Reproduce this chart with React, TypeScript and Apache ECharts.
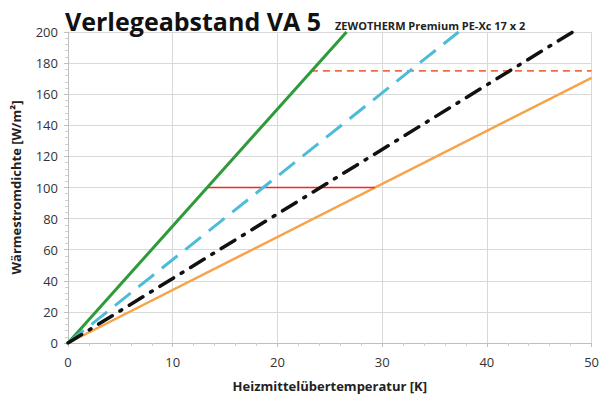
import React, { useEffect, useRef } from "react";
import * as echarts from "echarts";

const xTicks = [0, 10, 20, 30, 40, 50];
const yTicks = [0, 20, 40, 60, 80, 100, 120, 140, 160, 180, 200];

const greenLine = [[0, 0], [26.6, 200]];
const cyanLine = [[0, 0], [37.3, 200]];
const blackLine = [[0, 0], [48.2, 200]];
const orangeLine = [[0, 0], [50, 170.5]];
const redSolid = [[13.3, 100], [29.3, 100]];
const redDashed = [[23.2, 175], [50, 175]];

export default function App() {
  const ref = useRef<HTMLDivElement>(null);
  useEffect(() => {
    const chart = echarts.init(ref.current!, null, { renderer: "svg" });
    const font = "'Open Sans', 'Liberation Sans', sans-serif";
    chart.setOption({
      animation: false,
      backgroundColor: "#ffffff",
      textStyle: { fontFamily: font },
      title: [
        {
          text: "Verlegeabstand VA 5",
          left: 60,
          top: 3,
          textStyle: { fontSize: 25, fontWeight: "bold", color: "#111", fontFamily: font },
        },
        {
          text: "ZEWOTHERM Premium PE-Xc 17 x 2",
          left: 330,
          top: 15,
          textStyle: { fontSize: 11, fontWeight: "bold", color: "#222", fontFamily: font },
        },
      ],
      grid: { left: 68, right: 8, top: 32, bottom: 62, containLabel: false },
      xAxis: {
        type: "value",
        min: xTicks[0],
        max: xTicks[xTicks.length - 1],
        interval: 10,
        name: "Heizmittelübertemperatur [K]",
        nameLocation: "middle",
        nameGap: 36,
        nameTextStyle: { fontSize: 13, fontWeight: "bold", color: "#222" },
        axisLine: { show: true, lineStyle: { color: "#bfbfbf" } },
        axisTick: { show: true, length: 4, lineStyle: { color: "#bfbfbf" } },
        minorTick: { show: true, splitNumber: 5, length: 3, lineStyle: { color: "#d0d0d0" } },
        axisLabel: { fontSize: 13, color: "#333", margin: 12 },
        splitLine: { show: true, lineStyle: { color: "#d9d9d9" } },
      },
      yAxis: {
        type: "value",
        min: yTicks[0],
        max: yTicks[yTicks.length - 1],
        interval: 20,
        name: "Wärmestromdichte [W/m²]",
        nameLocation: "middle",
        nameGap: 46,
        nameTextStyle: { fontSize: 13, fontWeight: "bold", color: "#222" },
        axisLine: { show: true, lineStyle: { color: "#bfbfbf" } },
        axisTick: { show: true, length: 4, lineStyle: { color: "#bfbfbf" } },
        minorTick: { show: true, splitNumber: 5, length: 3, lineStyle: { color: "#d0d0d0" } },
        axisLabel: { fontSize: 13, color: "#333", margin: 10 },
        splitLine: { show: true, lineStyle: { color: "#d9d9d9" } },
      },
      series: [
        {
          type: "line",
          data: orangeLine,
          symbol: "none",
          lineStyle: { color: "#f7a34c", width: 2.5 },
        },
        {
          type: "line",
          data: redSolid,
          symbol: "none",
          lineStyle: { color: "#ff2020", width: 1.5 },
        },
        {
          type: "line",
          data: redDashed,
          symbol: "none",
          lineStyle: { color: "#f26a45", width: 1.8, type: [7, 5] },
        },
        {
          type: "line",
          data: greenLine,
          symbol: "none",
          lineStyle: { color: "#2e9a3a", width: 3 },
        },
        {
          type: "line",
          data: cyanLine,
          symbol: "none",
          lineStyle: { color: "#4dbcd8", width: 3, type: [20, 10] },
        },
        {
          type: "line",
          data: blackLine,
          symbol: "none",
          lineStyle: { color: "#111111", width: 3.5, type: [16, 9, 2, 9], cap: "round" },
        },
      ],
    });
    return () => chart.dispose();
  }, []);
  return <div ref={ref} style={{ width: 602, height: 405, position: "absolute", left: 0, top: 0 }} />;
}
